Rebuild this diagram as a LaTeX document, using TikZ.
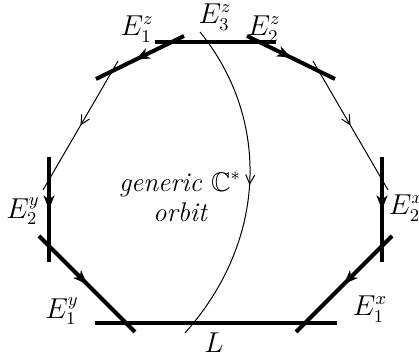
\documentclass[tikz,border=0pt]{standalone}
\usepackage{amssymb}
\usetikzlibrary{arrows.meta,decorations.markings}
\begin{document}
\begin{tikzpicture}[x=0.5pt,y=-0.5pt,
  every node/.style={font=\fontsize{13.5}{16}\selectfont, inner sep=0pt},
  edgeline/.style={line width=2pt},
  orbitline/.style={line width=0.5pt},
  thickarrow/.style={postaction={decorate},decoration={markings,mark=at position #1 with {\arrow{Stealth[length=7pt,width=5.5pt,inset=2pt]}}}},
  thinarrow/.style={postaction={decorate},decoration={markings,mark=at position #1 with {\arrow{Straight Barb[length=4.5pt,width=4.5pt]}}}}]
\useasboundingbox (0,0) rectangle (419,356);
% coordinates
\coordinate (Ls) at (95,323);   \coordinate (Le) at (337,323);
\coordinate (y1a) at (39,236);  \coordinate (y1b) at (135,332);
\coordinate (x1a) at (392,236); \coordinate (x1b) at (296,332);
\coordinate (y2a) at (49,157);  \coordinate (y2b) at (49,262);
\coordinate (x2a) at (382,157); \coordinate (x2b) at (382,262);
\coordinate (z1a) at (184,36);  \coordinate (z1b) at (96,79);
\coordinate (z2a) at (247,36);  \coordinate (z2b) at (335,79);
\coordinate (z3a) at (155,42);  \coordinate (z3b) at (276,42);
\coordinate (tla) at (118,61);  \coordinate (tlb) at (43,190);
\coordinate (tra) at (313,61);  \coordinate (trb) at (388,190);
\coordinate (oa) at (200,32);   \coordinate (ob) at (185,333);
% thick edges
\draw[edgeline] (Ls) -- (Le);
\draw[edgeline] (z3a) -- (z3b);
\draw[edgeline,thickarrow=0.5] (y1a) -- (y1b);
\draw[edgeline,thickarrow=0.5] (x1a) -- (x1b);
\draw[edgeline,thickarrow=0.5] (y2a) -- (y2b);
\draw[edgeline,thickarrow=0.5] (x2a) -- (x2b);
\draw[edgeline,thickarrow=0.55] (z1a) -- (z1b);
\draw[edgeline,thickarrow=0.5] (z2a) -- (z2b);
% thin orbits
\draw[orbitline,thinarrow=0.5] (tla) -- (tlb);
\draw[orbitline,thinarrow=0.5] (tra) -- (trb);
\draw[orbitline,thinarrow=0.5] (oa) .. controls (270,118) and (268,240) .. (ob);
% labels
\node (lz1) at (137,29) {$E_1^z$};
\node (lz3) at (215,17) {$E_3^z$};
\node (lz2) at (264,29) {$E_2^z$};
\node (ly2) at (23,211) {$E_2^y$};
\node (ly1) at (62,311) {$E_1^y$};
\node (lx2) at (406,208) {$E_2^x$};
\node (lx1) at (370,309) {$E_1^x$};
\node (lL) at (214,343) {$L$};
\node[align=center] (gen) at (180,197) {\itshape generic $\mathbb{C}^*$\\[-1pt]\itshape orbit};
\end{tikzpicture}
\end{document}
